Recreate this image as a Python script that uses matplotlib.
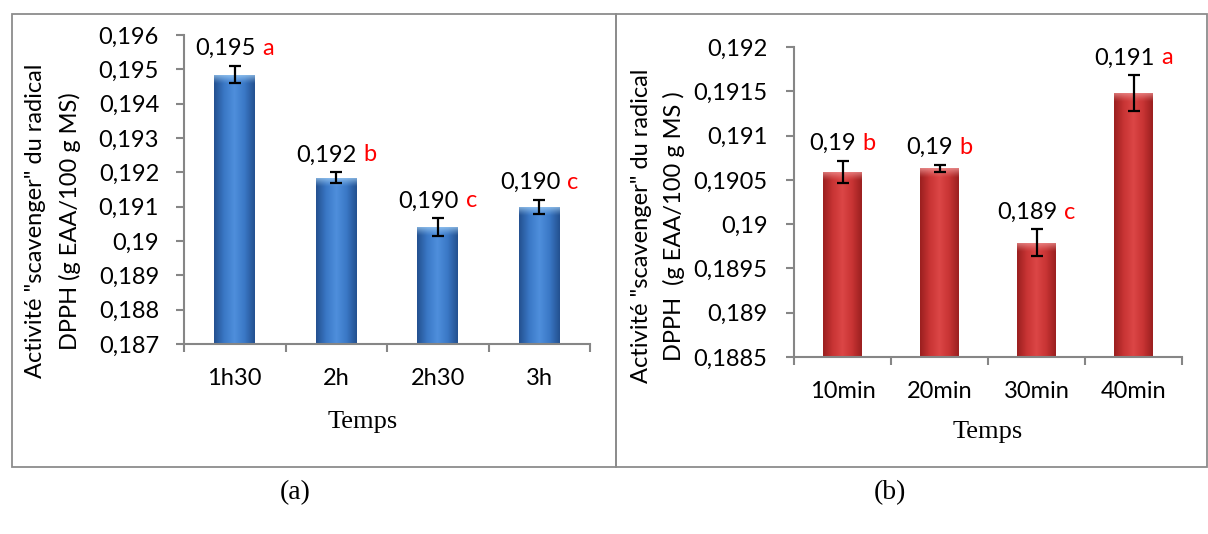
import numpy as np
import matplotlib
matplotlib.use("Agg")
import matplotlib.pyplot as plt
from matplotlib.colors import LinearSegmentedColormap, to_rgb
from matplotlib.offsetbox import TextArea, HPacker, AnnotationBbox
from matplotlib.patches import Rectangle

# ---------------- data ----------------
cats_a = ["1h30", "2h", "2h30", "3h"]
vals_a = [0.19484, 0.19184, 0.19041, 0.19099]
err_a = [0.00025, 0.00016, 0.00025, 0.00020]
lbl_a = ["0,195", "0,192", "0,190", "0,190"]
let_a = ["a", "b", "c", "c"]
yticks_a = [0.187, 0.188, 0.189, 0.19, 0.191, 0.192, 0.193, 0.194, 0.195, 0.196]
ytl_a = ["0,187", "0,188", "0,189", "0,19", "0,191", "0,192", "0,193", "0,194", "0,195", "0,196"]

cats_b = ["10min", "20min", "30min", "40min"]
vals_b = [0.19059, 0.19063, 0.18979, 0.19148]
err_b = [0.00012, 0.00004, 0.00015, 0.00020]
lbl_b = ["0,19", "0,19", "0,189", "0,191"]
let_b = ["b", "b", "c", "a"]
yticks_b = [0.1885, 0.189, 0.1895, 0.19, 0.1905, 0.191, 0.1915, 0.192]
ytl_b = ["0,1885", "0,189", "0,1895", "0,19", "0,1905", "0,191", "0,1915", "0,192"]

ylabel1 = "Activité \"scavenger\" du radical"
ylabel2_a = "DPPH (g EAA/100 g MS)"
ylabel2_b = "DPPH  (g EAA/100 g MS )"

W, H = 1208, 534
fig = plt.figure(figsize=(W / 100, H / 100), dpi=100)
SANS = ["Lato", "DejaVu Sans"]
SERIF = ["Liberation Serif", "DejaVu Serif"]
FS = 17
GRAY = "#868686"

def px(x, y):
    return x / W, 1 - y / H

def make_panel(rect, cats, vals, errs, lbls, lets, yt, ytl, cols, light, ylim, ypad):
    ax = fig.add_axes(rect)
    n = len(cats)
    x = np.arange(n)
    bars = ax.bar(x, [v - ylim[0] for v in vals], bottom=ylim[0], width=0.4,
                  color="none", edgecolor="none", zorder=2)
    cmap = LinearSegmentedColormap.from_list("g", cols)
    grad = np.linspace(0, 1, 200)[None, :]
    band = 0.03 * (ylim[1] - ylim[0])
    lrgb = to_rgb(light)
    top = np.zeros((30, 1, 4))
    top[:, 0, :3] = lrgb
    top[:, 0, 3] = np.linspace(0.85, 0.0, 30) ** 1.3
    for b in bars:
        x0 = b.get_x(); w = b.get_width(); y0 = b.get_y(); h = b.get_height()
        im = ax.imshow(grad, cmap=cmap, extent=(x0, x0 + w, y0, y0 + h),
                       aspect="auto", zorder=2, interpolation="bicubic")
        im.set_clip_path(b)
        im2 = ax.imshow(top, extent=(x0, x0 + w, y0 + h - band, y0 + h),
                        aspect="auto", zorder=2.5, interpolation="bilinear")
        im2.set_clip_path(b)
    ax.errorbar(x, vals, yerr=errs, fmt="none", ecolor="black", elinewidth=1.6,
                capsize=4.5, capthick=1.6, zorder=4)
    ax.set_xlim(-0.5, n - 0.5)
    ax.set_ylim(*ylim)
    ax.set_xticks(np.arange(n + 1) - 0.5)
    ax.set_xticklabels([])
    ax.set_xticks(x, minor=True)
    ax.set_xticklabels(cats, minor=True, fontsize=FS, family=SANS)
    ax.tick_params(axis="x", which="major", length=6, width=1.5, color=GRAY, direction="out")
    ax.tick_params(axis="x", which="minor", length=0, pad=17)
    ax.set_yticks(yt)
    ax.set_yticklabels(ytl, fontsize=FS, family=SANS)
    ax.tick_params(axis="y", length=6, width=1.5, color=GRAY, pad=ypad)
    for s in ["top", "right"]:
        ax.spines[s].set_visible(False)
    for s in ["left", "bottom"]:
        ax.spines[s].set_color(GRAY)
        ax.spines[s].set_linewidth(1.5)
    for xi, v, e, l, t in zip(x, vals, errs, lbls, lets):
        ta = TextArea(l, textprops=dict(color="black", fontsize=FS, family=SANS))
        tb = TextArea(t, textprops=dict(color="#ff0000", fontsize=FS, family=SANS))
        pk = HPacker(children=[ta, tb], align="baseline", pad=0, sep=5)
        ab = AnnotationBbox(pk, (xi, v + e), xybox=(0, 5), xycoords="data",
                            boxcoords="offset points", box_alignment=(0.5, 0),
                            frameon=False, pad=0)
        ax.add_artist(ab)
    return ax

blue = ["#23508f", "#3a78c6", "#4f8fdc", "#3a78c6", "#23508f"]
red = ["#9a1f1f", "#c83434", "#dc4646", "#c83434", "#9a1f1f"]

ax1 = make_panel([184 / W, (534 - 344) / H, 406 / W, 309 / H], cats_a, vals_a, err_a,
                 lbl_a, let_a, yticks_a, ytl_a, blue, "#a8d4f8", (0.187, 0.196), 12)
ax2 = make_panel([794 / W, (534 - 357) / H, 388 / W, 310 / H], cats_b, vals_b, err_b,
                 lbl_b, let_b, yticks_b, ytl_b, red, "#f29a9a", (0.1885, 0.192), 13)

# y labels
fig.text(*px(36, 221), ylabel1, rotation=90, ha="center", va="center", fontsize=FS, family=SANS)
fig.text(*px(70, 221), ylabel2_a, rotation=90, ha="center", va="center", fontsize=FS, family=SANS)
fig.text(*px(641, 226), ylabel1, rotation=90, ha="center", va="center", fontsize=FS, family=SANS)
fig.text(*px(674, 226), ylabel2_b, rotation=90, ha="center", va="center", fontsize=FS, family=SANS)

# x labels
fig.text(*px(363, 422), "Temps", ha="center", va="center", fontsize=19, family=SERIF)
fig.text(*px(988, 432), "Temps", ha="center", va="center", fontsize=19, family=SERIF)

# panel letters
fig.text(*px(295, 493), "(a)", ha="center", va="center", fontsize=20, family=SERIF)
fig.text(*px(890, 493), "(b)", ha="center", va="center", fontsize=20, family=SERIF)

# frames
for (x0, x1) in [(12, 616), (616, 1207)]:
    fig.add_artist(Rectangle(px(x0, 467), (x1 - x0) / W, (467 - 14) / H,
                             transform=fig.transFigure, fill=False,
                             edgecolor="#8c8c8c", linewidth=1.3))

fig.savefig("out.png", dpi=100)
